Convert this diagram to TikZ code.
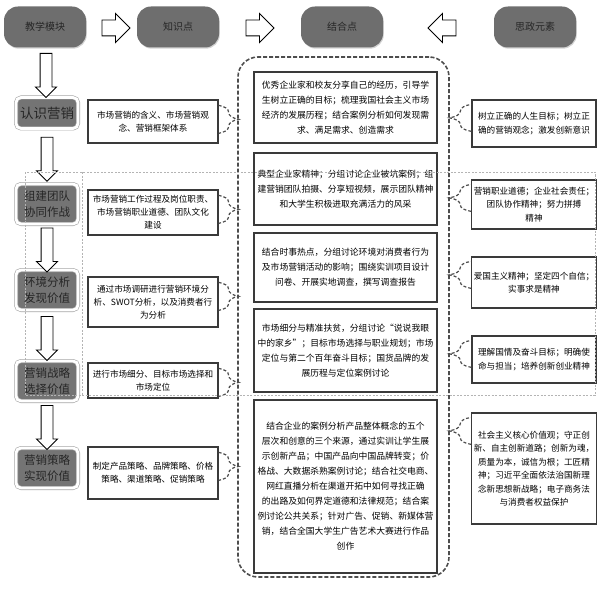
\documentclass[tikz,border=0pt]{standalone}
\usepackage{fontspec}
\setmainfont{Noto Sans CJK SC}
\usetikzlibrary{shapes.arrows,shadows,decorations.pathreplacing,calc}
\definecolor{hdrgray}{HTML}{6E6E6E}
\definecolor{modgray}{HTML}{747474}
\definecolor{edgegray}{HTML}{3A3A3A}
\definecolor{dashgray}{HTML}{4D4D4D}
\definecolor{guidegray}{HTML}{B4B4B4}
\begin{document}
\begin{tikzpicture}
  [x=1pt,y=-1pt,every node/.style={inner sep=2pt,align=center}]
  \tikzstyle{head} = [rounded corners=14pt, fill=hdrgray, minimum width=82pt, minimum height=41pt, font=\fontsize{10}{12}\selectfont, text=black!85, drop shadow={shadow xshift=.8pt, shadow yshift=-1.2pt, opacity=.35}]
  \tikzstyle{module} = [rounded corners=5pt, fill=modgray, draw=black!35, double=white, double distance=2.8pt, line width=.6pt, minimum width=62pt, minimum height=40pt, font=\fontsize{11.5}{16}\selectfont, text=black!85, drop shadow={shadow xshift=.8pt, shadow yshift=-1.5pt, opacity=.4}]
  \tikzstyle{harrow} = [single arrow, draw=black, fill=white, line width=.9pt, inner xsep=0pt, inner ysep=7.5pt, single arrow head extend=6.5pt, minimum height=28pt]
  \tikzstyle{darrow} = [single arrow, draw=black, fill=white, line width=.9pt, inner xsep=0pt, inner ysep=5.5pt, single arrow head extend=4.5pt, minimum height=44pt, rotate=-90]
  \tikzstyle{kbox} = [draw=edgegray, line width=1.3pt, fill=white, minimum width=130pt, font=\fontsize{8.6}{13}\selectfont]
  \tikzstyle{mbox} = [draw=edgegray, line width=1.3pt, fill=white, minimum width=183pt, font=\fontsize{8.8}{15}\selectfont]
  \tikzstyle{rbox} = [draw=edgegray, line width=1.3pt, fill=white, minimum width=124pt, font=\fontsize{8.6}{13.5}\selectfont]
  \tikzstyle{column} = [draw=dashgray, line width=1.6pt, dash pattern=on 4pt off 2pt, rounded corners=20pt, minimum width=211pt, minimum height=520pt]
  \tikzstyle{lbrace} = [draw=dashgray, line width=1.2pt, dash pattern=on 3pt off 2pt, decorate, decoration={brace, amplitude=20pt}]
  \tikzstyle{rbrace} = [draw=dashgray, line width=1.2pt, dash pattern=on 3pt off 2pt, decorate, decoration={brace, amplitude=22pt}]
  \tikzstyle{guide} = [draw=guidegray, line width=.5pt, dash pattern=on 2pt off 1.5pt]
  \useasboundingbox (0,0) rectangle (612,588);

  % header row
  \node[head] (h1) at (45,27)  {教学模块};
  \node[head] (h2) at (178,27) {知识点};
  \node[head] (h3) at (342,27) {结合点};
  \node[head] (h4) at (535,27) {思政元素};
  \node[harrow] (ha1) at (112,28) {};
  \node[harrow] (ha2) at (256,28) {};
  \node[harrow, rotate=180] (ha3) at (446,28) {};

  % teaching modules
  \node[module, minimum height=31pt, font=\fontsize{13.5}{16}\selectfont] (b1) at (47,113) {认识营销};
  \node[module] (b2) at (47,204) {组建团队\\协同作战};
  \node[module] (b3) at (47,290) {环境分析\\发现价值};
  \node[module] (b4) at (47,381) {营销战略\\选择价值};
  \node[module] (b5) at (47,468) {营销策略\\实现价值};
  \foreach \a/\b [count=\i] in {h1/b1,b1/b2,b2/b3,b3/b4,b4/b5}
    \node[darrow] (da\i) at ($(\a.south)!.5!(\b.north)$) {};

  % knowledge points
  \node[kbox, minimum height=43pt] (k1) at (153,121.5) {市场营销的含义、市场营销观\\念、营销框架体系};
  \node[kbox, minimum height=45pt] (k2) at (153,212.5) {市场营销工作过程及岗位职责、\\市场营销职业道德、团队文化\\建设};
  \node[kbox, minimum height=50pt] (k3) at (153,302) {通过市场调研进行营销环境分\\析、SWOT分析，以及消费者行\\为分析};
  \node[kbox, minimum height=35pt] (k4) at (153,380.5) {进行市场细分、目标市场选择和\\市场定位};
  \node[kbox, minimum height=52pt] (k5) at (153,473) {制定产品策略、品牌策略、价格\\策略、渠道策略、促销策略};

  % combination points
  \node[column] (col) at (343.5,317) {};
  \node[mbox, minimum height=71pt] (m1) at (345.5,107.5) {优秀企业家和校友分享自己的经历，引导学\\生树立正确的目标；梳理我国社会主义市场\\经济的发展历程；结合案例分析如何发现需\\求、满足需求、创造需求};
  \node[mbox, minimum height=72pt] (m2) at (345.5,189) {典型企业家精神；分组讨论企业被坑案例；组\\建营销团队拍摄、分享短视频，展示团队精神\\和大学生积极进取充满活力的风采};
  \node[mbox, minimum height=69pt] (m3) at (345.5,267.5) {结合时事热点，分组讨论环境对消费者行为\\及市场营销活动的影响；围绕实训项目设计\\问卷、开展实地调查，撰写调查报告};
  \node[mbox, minimum height=83pt] (m4) at (345.5,350.5) {市场细分与精准扶贫，分组讨论“说说我眼\\中的家乡”；目标市场选择与职业规划；市场\\定位与第二个百年奋斗目标；国货品牌的发\\展历程与定位案例讨论};
  \node[mbox, minimum height=173pt] (m5) at (345.5,486.5) {结合企业的案例分析产品整体概念的五个\\层次和创意的三个来源，通过实训让学生展\\示创新产品；中国产品向中国品牌转变；价\\格战、大数据杀熟案例讨论；结合社交电商、\\网红直播分析在渠道开拓中如何寻找正确\\的出路及如何界定道德和法律规范；结合案\\例讨论公共关系；针对广告、促销、新媒体营\\销，结合全国大学生广告艺术大赛进行作品\\创作};

  % ideological elements
  \node[rbox, minimum height=47pt] (r1) at (534,123.5) {树立正确的人生目标；树立正\\确的营销观念；激发创新意识};
  \node[rbox, minimum height=49pt] (r2) at (534,204.5) {营销职业道德；企业社会责任；\\团队协作精神；努力拼搏\\精神};
  \node[rbox, minimum height=51pt] (r3) at (534,282.5) {爱国主义精神；坚定四个自信；\\实事求是精神};
  \node[rbox, minimum height=47pt] (r4) at (534,359.5) {理解国情及奋斗目标；明确使\\命与担当；培养创新创业精神};
  \node[rbox, minimum height=111pt] (r5) at (534,468.5) {社会主义核心价值观；守正创\\新、自主创新道路；创新为魂，\\质量为本，诚信为根；工匠精\\神；习近平全面依法治国新理\\念新思想新战略；电子商务法\\与消费者权益保护};

  % braces towards the column
  \foreach \k in {k1,k2,k3,k4,k5}
    \draw[lbrace] ($(\k.north east)+(0,6)$) -- ($(\k.north east)+(0,34)$);
  \foreach \r in {r1,r2,r3,r4,r5}
    \draw[rbrace] ($(\r.north west)+(0,32)$) -- ($(\r.north west)+(0,5)$);

  % selection frame
  \draw[guide] (25,172) rectangle (595,395);
  \draw[guide] (82,172) -- (82,395);
\end{tikzpicture}
\end{document}
